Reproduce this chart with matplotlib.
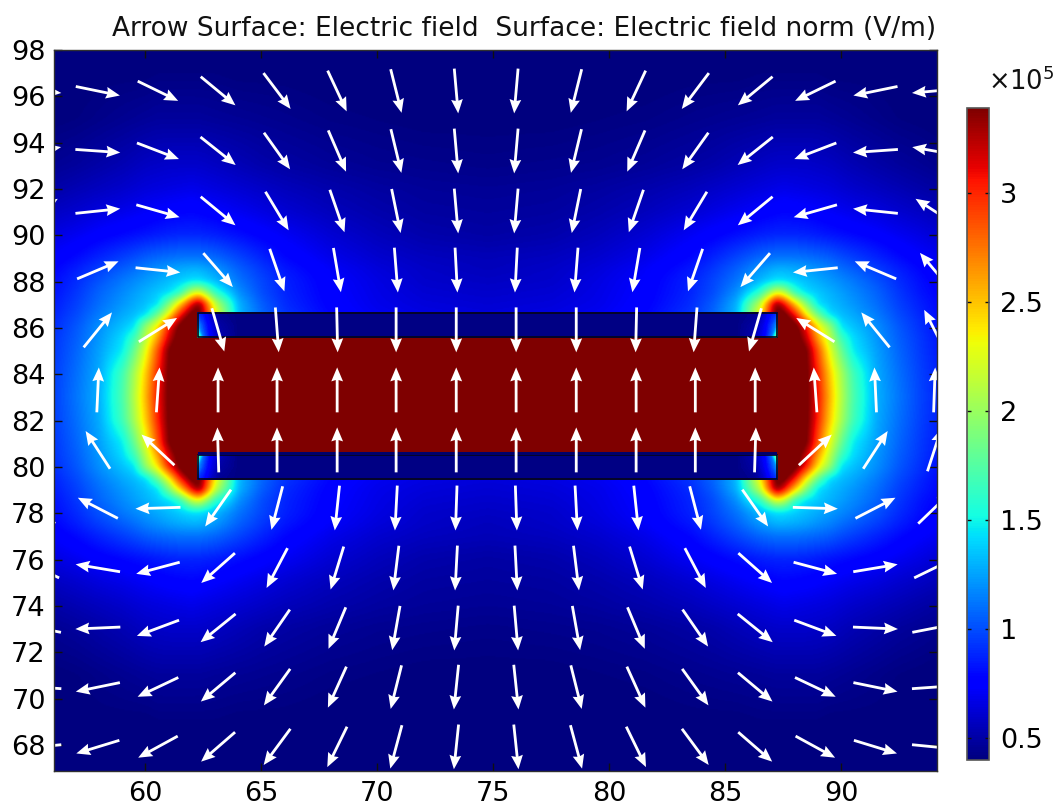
import numpy as np
import matplotlib
matplotlib.use("Agg")
import matplotlib.pyplot as plt
from matplotlib.cm import ScalarMappable
from matplotlib.colors import Normalize
from matplotlib.patches import Rectangle

plt.rcParams['font.family'] = 'DejaVu Sans'
plt.rcParams['mathtext.default'] = 'regular'

# --- field norm table (units of 1e5 V/m), one quadrant, mirrored about the device centre
center_x = 74.75
center_y = 83.05
field_x = [55.3, 56.06, 57, 58, 59, 59.5, 60, 60.5, 61, 61.5, 62, 62.3, 63, 64, 65, 66, 68, 70, 72, 74.75]
field_dy = [0, 1, 2, 2.55, 3.0, 3.3, 3.55, 4, 4.5, 5, 5.5, 6, 7, 8, 9, 10, 12, 14, 16.2]
field_norm = [
    [.88, .97, 1.12, 1.30, 1.72, 2.10, 2.55, 3.05, 3.45, 3.6, 3.6, 3.6, 3.6, 3.6, 3.6, 3.6, 3.6, 3.6, 3.6, 3.6],
    [.87, .96, 1.10, 1.28, 1.68, 2.05, 2.48, 3.00, 3.45, 3.6, 3.6, 3.6, 3.6, 3.6, 3.6, 3.6, 3.6, 3.6, 3.6, 3.6],
    [.85, .94, 1.07, 1.25, 1.47, 1.82, 2.28, 2.85, 3.42, 3.6, 3.6, 3.6, 3.6, 3.6, 3.6, 3.6, 3.6, 3.6, 3.6, 3.6],
    [.84, .93, 1.05, 1.22, 1.42, 1.65, 2.12, 2.60, 3.20, 3.55, 3.6, 3.6, 3.6, 3.6, 3.6, 3.6, 3.6, 3.6, 3.6, 3.6],
    [.82, .91, 1.03, 1.20, 1.35, 1.45, 2.00, 2.40, 3.06, 3.50, 3.6, 3.6, 3.6, 3.6, 3.6, 3.6, 3.6, 3.6, 3.6, 3.6],
    [.81, .90, 1.01, 1.17, 1.31, 1.38, 1.72, 2.10, 2.70, 3.30, 3.6, 3.6, 2.50, 1.35, 1.08, .93, .78, .70, .66, .64],
    [.80, .88, .99, 1.14, 1.27, 1.33, 1.42, 1.80, 2.34, 3.06, 3.5, 3.5, 2.34, 1.32, 1.08, .93, .78, .70, .66, .64],
    [.79, .86, .96, 1.10, 1.22, 1.28, 1.34, 1.43, 1.90, 2.50, 3.15, 3.42, 2.15, 1.30, 1.05, .90, .76, .68, .64, .62],
    [.77, .83, .93, 1.07, 1.18, 1.24, 1.30, 1.36, 1.42, 1.62, 2.15, 2.25, 1.60, 1.20, 1.00, .88, .75, .67, .62, .60],
    [.75, .81, .90, 1.02, 1.13, 1.18, 1.23, 1.28, 1.33, 1.38, 1.43, 1.43, 1.32, 1.12, .98, .87, .74, .66, .60, .58],
    [.73, .78, .86, .96, 1.05, 1.10, 1.16, 1.20, 1.25, 1.28, 1.30, 1.30, 1.22, 1.06, .94, .84, .72, .64, .59, .56],
    [.70, .74, .80, .88, .96, 1.00, 1.05, 1.08, 1.10, 1.12, 1.12, 1.12, 1.08, .98, .88, .79, .68, .61, .57, .55],
    [.62, .66, .70, .75, .79, .81, .83, .85, .87, .88, .88, .88, .86, .81, .76, .71, .62, .56, .52, .50],
    [.55, .58, .61, .65, .68, .70, .72, .74, .76, .77, .78, .77, .74, .70, .66, .62, .56, .52, .49, .48],
    [.49, .51, .54, .57, .60, .62, .64, .65, .66, .67, .68, .67, .65, .62, .59, .56, .52, .49, .47, .46],
    [.44, .46, .48, .51, .54, .56, .58, .59, .60, .60, .60, .60, .58, .55, .52, .50, .47, .45, .44, .43],
    [.39, .40, .41, .43, .45, .46, .47, .48, .48, .48, .48, .48, .47, .46, .45, .44, .42, .41, .40, .40],
    [.39, .39, .39, .40, .40, .40, .40, .41, .41, .41, .41, .41, .41, .40, .40, .40, .39, .39, .39, .39],
    [.39, .39, .39, .39, .39, .39, .39, .39, .39, .39, .39, .39, .39, .39, .39, .39, .39, .39, .39, .39],
]

# --- plates: field inside the conductor near its end (inner edge, middle, outer edge)
plate_x_left = 62.27
plate_x_right = 87.22
plate_top_y = [85.61, 86.65]
plate_bottom_y = [79.48, 80.50]
plate_lip_y = [80.50, 80.65]
plate_end_x = [62.27, 62.5, 62.8, 63.2, 64.0]
plate_end_norm = [
    [1.90, 1.10, .75, .55, .42],
    [1.20, .95, .70, .50, .42],
    [.90, .80, .60, .45, .42],
]

# --- arrows: positions and directions (degrees), left half of the grid, mirrored on the right
arrow_x_left = [55.43, 57.97, 60.56, 63.15, 65.69, 68.28, 70.82, 73.41]
arrow_x_right = [75.99, 78.58, 81.16, 83.71, 86.29, 88.88, 91.47, 94.01]
arrow_y = [96.23, 93.64, 91.05, 88.50, 85.92, 83.33, 80.74, 78.23, 75.64, 73.05, 70.50, 67.92]
arrow_angle_left = [
    [-5, -11.6, -26, -39.6, -53, -65, -76, -85],
    [10, -4, -21, -38.6, -54.5, -66.7, -76.5, -85],
    [33, 6, -16, -39.5, -59, -71, -78.5, -85],
    [50, 23, -6, -49, -71, -80.4, -85.5, -87],
    [63, 51, 32, -74, -85.7, -88.7, -90, -90],
    [92, 87.4, 86, 90, 90, 90, 90, 90],
    [108, 122.9, 137, 91.7, 90, 90, 90, 90],
    [136, 152.7, 181.8, 235, 255.5, 264, 267, 268],
    [154, 170.5, 195, 221.6, 242.3, 253, 263, 267],
    [169, 182.5, 200.5, 219, 235.4, 247.4, 260, 265],
    [176, 191.6, 205.4, 220, 234.3, 245.7, 256, 264],
    [185.6, 197, 208.7, 221, 233.6, 244, 255, 264],
]

# --- axes and colour scale
x_limits = (56.06, 94.1)
y_limits = (66.88, 98.0)
x_ticks = [60, 65, 70, 75, 80, 85, 90]
y_ticks = [68, 70, 72, 74, 76, 78, 80, 82, 84, 86, 88, 90, 92, 94, 96, 98]
cbar_ticks = [0.5, 1, 1.5, 2, 2.5, 3]
cbar_labels = ['0.5', '1', '1.5', '2', '2.5', '3']
vmin, vmax = 0.40, 3.39
title_text = 'Arrow Surface: Electric field  Surface: Electric field norm (V/m)'

W, H = 1056, 807
fig = plt.figure(figsize=(W / 100, H / 100), dpi=100, facecolor='white')
ax = fig.add_axes([53.5 / W, 1 - 771 / H, 883 / W, 721 / H])
norm = Normalize(vmin, vmax)
levels = np.linspace(vmin, vmax, 220)

fx = np.array(field_x)
fd = np.array(field_dy)
fz = np.array(field_norm)
X = np.concatenate([fx, (2 * center_x - fx[::-1])[1:]])
Y = np.concatenate([center_y - fd[::-1], (center_y + fd)[1:]])
Zx = np.hstack([fz, fz[:, ::-1][:, 1:]])
Z = np.vstack([Zx[::-1], Zx[1:]])

# resample the read table on a fine regular grid and soften the creases between its nodes
step = 0.05
Xf = np.arange(X[0], X[-1] + step, step)
Yf = np.arange(Y[0], Y[-1] + step, step)
Zf = np.array([np.interp(Xf, X, r) for r in Z])
Zf = np.array([np.interp(Yf, Y, c) for c in Zf.T]).T
sigma = 0.13 / step
kx = np.arange(-int(3 * sigma), int(3 * sigma) + 1)
kernel = np.exp(-0.5 * (kx / sigma) ** 2)
kernel /= kernel.sum()
pad = len(kernel) // 2
Zf = np.array([np.convolve(np.pad(r, pad, mode='edge'), kernel, mode='valid') for r in Zf])
Zf = np.array([np.convolve(np.pad(c, pad, mode='edge'), kernel, mode='valid') for c in Zf.T]).T
ax.imshow(Zf, extent=(Xf[0], Xf[-1], Yf[0], Yf[-1]), origin='lower', aspect='auto', cmap='jet', norm=norm,
          interpolation='bilinear', zorder=1)


def draw_plate(y_pair, inner_is_low):
    ex = np.array(plate_end_x)
    ez = np.array(plate_end_norm)
    px = np.concatenate([ex, [74.75], (2 * center_x - ex[::-1])])
    row = lambda r: np.concatenate([r, [r[-1]], r[::-1]])
    pz = np.array([row(r) for r in ez])
    if not inner_is_low:
        pz = pz[::-1]
    py = np.linspace(y_pair[0], y_pair[1], 3)
    ax.contourf(px, py, pz, levels=levels, cmap='jet', norm=norm, extend='both', zorder=2)
    ax.add_patch(Rectangle((plate_x_left, y_pair[0]), plate_x_right - plate_x_left, y_pair[1] - y_pair[0],
                           fill=False, ec='#050518', lw=1.2, zorder=3))


draw_plate(plate_top_y, True)
draw_plate(plate_bottom_y, False)
ax.add_patch(Rectangle((plate_x_left, plate_lip_y[0]), plate_x_right - plate_x_left, plate_lip_y[1] - plate_lip_y[0],
                       fc='#00006a', ec='none', zorder=3))

ang_l = np.radians(np.array(arrow_angle_left))
ang = np.hstack([ang_l, np.pi - ang_l[:, ::-1]])
ax_x, ax_y = np.meshgrid(np.array(arrow_x_left + arrow_x_right), np.array(arrow_y))
ax.quiver(ax_x, ax_y, np.cos(ang), np.sin(ang), angles='xy', scale_units='xy', scale=1 / 1.94, pivot='mid',
          color='white', units='dots', width=2.8, headwidth=4.2, headlength=5.0, headaxislength=4.5, zorder=5)

ax.set_xlim(x_limits)
ax.set_ylim(y_limits)
ax.set_xticks(x_ticks)
ax.set_yticks(y_ticks)
ax.tick_params(direction='in', length=5.8, width=1.0, top=True, right=True, labelsize=19.5, color='#101010')
ax.tick_params(axis='x', pad=7.5)
ax.tick_params(axis='y', pad=5.5)
for s in ax.spines.values():
    s.set_linewidth(1.0)
    s.set_color('#303030')
    s.set_zorder(6)

ax.text(1.0, 1.0 + 14 / 721, title_text, transform=ax.transAxes, ha='right', va='baseline', fontsize=19, color='#111111')

cax = fig.add_axes([967 / W, 1 - 760 / H, 22 / W, 652 / H])
cb = fig.colorbar(ScalarMappable(norm=norm, cmap='jet'), cax=cax)
cb.set_ticks(cbar_ticks)
cb.set_ticklabels(cbar_labels)
cax.yaxis.set_ticks_position('both')
cax.tick_params(direction='in', length=3, width=1.0, labelsize=19.5, pad=8, labelright=True, labelleft=False, color='#101010')
cb.outline.set_edgecolor('#555555')
cb.outline.set_linewidth(1.2)

fig.text(988 / W, 1 - 90 / H, r'$\times 10^{5}$', fontsize=18.5, ha='left', va='baseline', color='#111111')

fig.savefig('out.png', dpi=100, facecolor='white')
